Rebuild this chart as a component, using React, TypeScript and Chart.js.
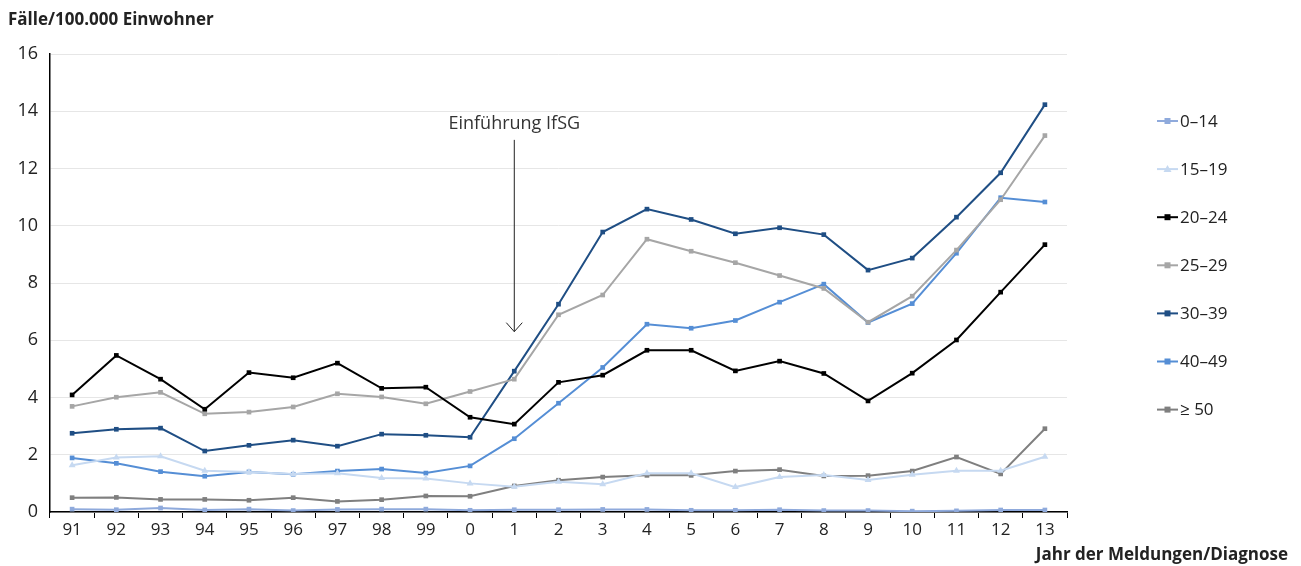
import React, { useEffect, useRef } from 'react';
import { Chart, registerables } from 'chart.js';

Chart.register(...registerables);

const years = ['91', '92', '93', '94', '95', '96', '97', '98', '99', '0', '1', '2', '3', '4', '5', '6', '7', '8', '9', '10', '11', '12', '13'];
const ageGroups = ['0–14', '15–19', '20–24', '25–29', '30–39', '40–49', '≥ 50'];

const v0to14 = [0.10, 0.08, 0.14, 0.07, 0.10, 0.05, 0.09, 0.10, 0.10, 0.06, 0.08, 0.08, 0.09, 0.09, 0.06, 0.06, 0.08, 0.05, 0.05, 0.03, 0.04, 0.07, 0.07];
const v15to19 = [1.63, 1.90, 1.95, 1.44, 1.40, 1.33, 1.35, 1.19, 1.17, 1.00, 0.88, 1.06, 0.97, 1.35, 1.35, 0.87, 1.22, 1.29, 1.12, 1.30, 1.44, 1.44, 1.93];
const v20to24 = [4.09, 5.47, 4.64, 3.59, 4.87, 4.69, 5.20, 4.32, 4.36, 3.31, 3.07, 4.53, 4.78, 5.65, 5.65, 4.93, 5.27, 4.84, 3.88, 4.85, 6.01, 7.68, 9.34];
const v25to29 = [3.69, 4.01, 4.18, 3.43, 3.49, 3.67, 4.13, 4.02, 3.78, 4.21, 4.64, 6.89, 7.58, 9.53, 9.11, 8.71, 8.26, 7.81, 6.63, 7.54, 9.15, 10.91, 13.15];
const v30to39 = [2.75, 2.89, 2.93, 2.13, 2.33, 2.51, 2.30, 2.72, 2.68, 2.61, 4.92, 7.26, 9.78, 10.58, 10.22, 9.72, 9.93, 9.69, 8.45, 8.87, 10.30, 11.85, 14.23];
const v40to49 = [1.89, 1.70, 1.41, 1.25, 1.40, 1.32, 1.43, 1.50, 1.36, 1.61, 2.56, 3.80, 5.05, 6.56, 6.42, 6.69, 7.33, 7.96, 6.62, 7.28, 9.04, 10.98, 10.83];
const v50plus = [0.50, 0.51, 0.44, 0.44, 0.41, 0.50, 0.37, 0.43, 0.56, 0.55, 0.91, 1.11, 1.22, 1.28, 1.28, 1.43, 1.48, 1.26, 1.27, 1.43, 1.92, 1.33, 2.91];

const seriesValues = [v0to14, v15to19, v20to24, v25to29, v30to39, v40to49, v50plus];
const seriesColors = ['#8FAADC', '#C6D9F1', '#000000', '#A6A6A6', '#1F4E84', '#558ED5', '#7F7F7F'];
const seriesMarkers = ['rect', 'triangle', 'rect', 'rect', 'rect', 'rect', 'rect'];

const yTitle = 'Fälle/100.000 Einwohner';
const xTitle = 'Jahr der Meldungen/Diagnose';
const annotationText = 'Einführung IfSG';
const annotationCategory = '1';
const annotationTop = 13.0;
const annotationTip = 6.3;

const FONT = '"Open Sans", "DejaVu Sans", sans-serif';

const extrasPlugin = {
  id: 'extras',
  afterDraw(chart: any) {
    const ctx = chart.ctx;
    const xs = chart.scales.x;
    const ys = chart.scales.y;
    ctx.save();
    // titles
    ctx.fillStyle = '#222';
    ctx.font = `bold 17px ${FONT}`;
    ctx.textBaseline = 'middle';
    ctx.textAlign = 'left';
    ctx.fillText(yTitle, 8, 20);
    ctx.textAlign = 'right';
    ctx.fillText(xTitle, 1288, 555);

    // annotation
    const ax = xs.getPixelForValue(years.indexOf(annotationCategory));
    const yTop = ys.getPixelForValue(annotationTop);
    const yTip = ys.getPixelForValue(annotationTip);
    ctx.font = `18px ${FONT}`;
    ctx.textAlign = 'center';
    ctx.fillStyle = '#333';
    ctx.fillText(annotationText, ax, yTop - 16);
    ctx.strokeStyle = '#222';
    ctx.lineWidth = 1;
    ctx.beginPath();
    ctx.moveTo(ax, yTop);
    ctx.lineTo(ax, yTip);
    ctx.moveTo(ax - 8, yTip - 9);
    ctx.lineTo(ax, yTip);
    ctx.lineTo(ax + 8, yTip - 9);
    ctx.stroke();

    // legend
    const lx = 1157;
    const ly0 = 121;
    const step = 48.1;
    ctx.font = `17px ${FONT}`;
    ctx.textAlign = 'left';
    ageGroups.forEach((label, i) => {
      const y = ly0 + i * step;
      const c = seriesColors[i];
      ctx.strokeStyle = c;
      ctx.fillStyle = c;
      ctx.lineWidth = 2;
      ctx.beginPath();
      ctx.moveTo(lx, y);
      ctx.lineTo(lx + 21, y);
      ctx.stroke();
      const mx = lx + 10.5;
      if (seriesMarkers[i] === 'triangle') {
        ctx.beginPath();
        ctx.moveTo(mx, y - 4);
        ctx.lineTo(mx + 4, y + 3);
        ctx.lineTo(mx - 4, y + 3);
        ctx.closePath();
        ctx.fill();
      } else {
        ctx.fillRect(mx - 3, y - 3, 6, 6);
      }
      ctx.fillStyle = '#222';
      ctx.fillText(label, lx + 23, y + 1);
    });
    ctx.restore();
  },
};

export default function App() {
  const canvasRef = useRef<HTMLCanvasElement>(null);

  useEffect(() => {
    const canvas = canvasRef.current;
    if (!canvas) return;
    const chart = new Chart(canvas, {
      type: 'line',
      data: {
        labels: years,
        datasets: ageGroups.map((label, i) => ({
          label,
          data: seriesValues[i],
          borderColor: seriesColors[i],
          backgroundColor: seriesColors[i],
          borderWidth: 2,
          pointStyle: seriesMarkers[i] as any,
          pointRadius: seriesMarkers[i] === 'triangle' ? 4 : 3.3,
          pointBorderWidth: 0,
          tension: 0,
        })),
      },
      options: {
        animation: false,
        responsive: true,
        maintainAspectRatio: false,
        layout: { padding: { top: 54, right: 234, bottom: 0, left: 0 } },
        plugins: {
          legend: { display: false },
          tooltip: { enabled: false },
        },
        scales: {
          x: {
            type: 'category',
            offset: true,
            afterFit: (s: any) => { s.height = 54; },
            grid: { offset: true, drawOnChartArea: false, drawTicks: true, tickLength: 6, color: '#000', lineWidth: 1 },
            border: { color: '#000', width: 1.5 },
            ticks: { color: '#222', font: { family: FONT, size: 17 }, padding: 2, maxRotation: 0, autoSkip: false },
          },
          y: {
            min: 0,
            max: 16,
            afterFit: (s: any) => { s.width = 50; },
            grid: { color: '#E6E6E6', lineWidth: 1, drawTicks: false },
            border: { color: '#000', width: 1.5 },
            ticks: { stepSize: 2, color: '#222', font: { family: FONT, size: 18 }, padding: 12 },
          },
        },
      },
      plugins: [extrasPlugin],
    });
    return () => chart.destroy();
  }, []);

  return (
    <div style={{ position: 'absolute', left: 0, top: 0, width: 1301, height: 566 }}>
      <canvas ref={canvasRef} />
    </div>
  );
}
